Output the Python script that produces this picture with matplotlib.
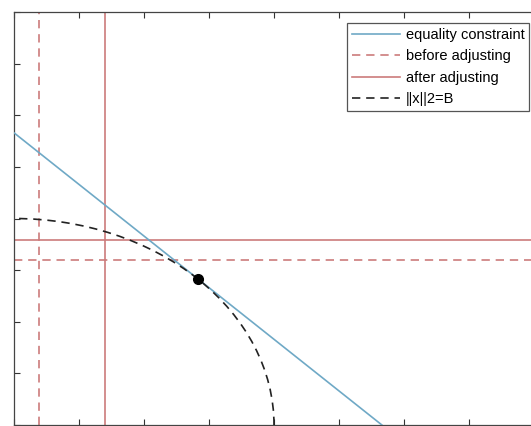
import matplotlib
matplotlib.use('Agg')
import matplotlib.pyplot as plt
from matplotlib.patches import Arc
from matplotlib.lines import Line2D

# datos
x_limites = [0, 8]
y_limites = [0, 8]
x_ticks = [0, 1, 2, 3, 4, 5, 6, 7, 8]
y_ticks = [0, 1, 2, 3, 4, 5, 6, 7, 8]

B = 4.0                       # radio de ||x||2 = B
restriccion_c = 5.66          # x1 + x2 = c
punto_tangente = [2.83, 2.83]
antes_x, antes_y = 0.39, 3.19
despues_x, despues_y = 1.40, 3.59

azul = '#6fa9c6'
rojo = '#cc7b7b'

plt.rcParams['font.family'] = ['Liberation Sans', 'DejaVu Sans']

fig = plt.figure(figsize=(5.31, 4.26), dpi=100)
ax = fig.add_axes([14 / 531, 1 / 426, 520 / 531, 413 / 426])

ax.axline((0, restriccion_c), slope=-1, color=azul, lw=1.2, zorder=3)
ax.axvline(antes_x, color=rojo, lw=1.2, ls=(0, (5, 3.5)), zorder=2)
ax.axhline(antes_y, color=rojo, lw=1.2, ls=(0, (5, 3.5)), zorder=2)
ax.axvline(despues_x, color=rojo, lw=1.2, zorder=2)
ax.axhline(despues_y, color=rojo, lw=1.2, zorder=2)

arco = Arc((0, 0), 2 * B, 2 * B, theta1=0, theta2=90, color='#222222',
           lw=1.2, ls=(0, (5, 3.5)), zorder=4)
ax.add_patch(arco)
ax.plot(punto_tangente[0], punto_tangente[1], 'o', color='black', ms=7, zorder=5)

ax.set_xlim(x_limites)
ax.set_ylim(y_limites)
ax.set_xticks(x_ticks)
ax.set_yticks(y_ticks)
ax.set_xticklabels([])
ax.set_yticklabels([])
ax.tick_params(direction='in', length=4, width=0.8, color='#333333',
               top=True, right=False)
for lado in ax.spines.values():
    lado.set_color('#444444')
    lado.set_linewidth(0.9)

manejadores = [
    Line2D([], [], color=azul, lw=1.2),
    Line2D([], [], color=rojo, lw=1.2, ls=(0, (5, 3.5))),
    Line2D([], [], color=rojo, lw=1.2),
    Line2D([], [], color='#222222', lw=1.2, ls=(0, (5, 3.5))),
]
etiquetas = ['equality constraint', 'before adjusting', 'after adjusting', '||x||2=B']
leg = ax.legend(manejadores, etiquetas, loc='upper left',
                bbox_to_anchor=(347 / 531, 1 - 23 / 426), bbox_transform=fig.transFigure,
                borderaxespad=0, fontsize=10.5, handlelength=3.3, handletextpad=0.4,
                labelspacing=0.52, borderpad=0.32, fancybox=False, framealpha=1,
                edgecolor='#555555')
leg.get_frame().set_linewidth(0.9)

plt.savefig('out.png', dpi=100)
